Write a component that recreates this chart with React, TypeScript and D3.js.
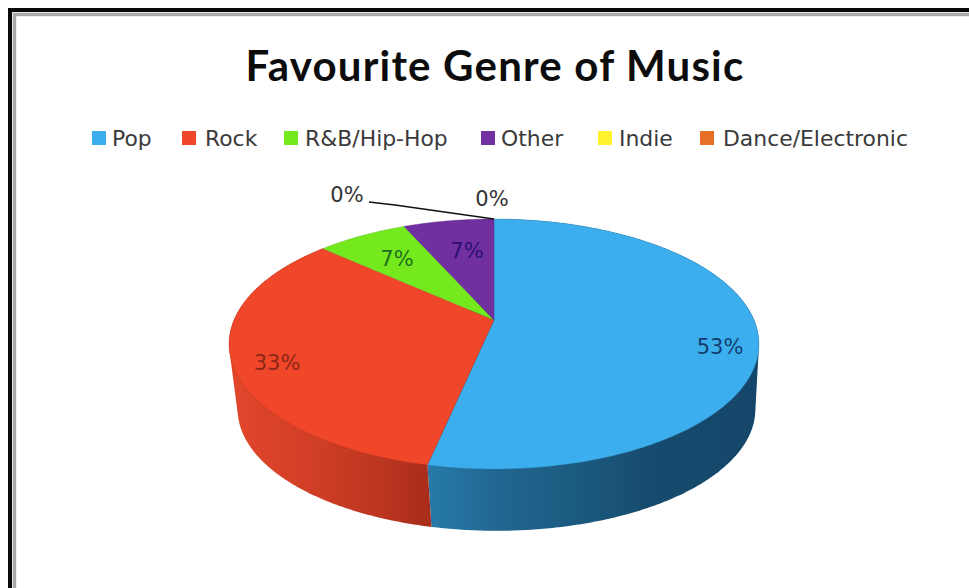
import React, { useMemo } from "react";
import * as d3 from "d3";

// Survey responses per genre
const genres = ["Pop", "Rock", "R&B/Hip-Hop", "Other", "Indie", "Dance/Electronic"];
const responses = [8, 5, 1, 1, 0, 0];
const sliceColors = ["#3CAEEE", "#F0472A", "#74EA1E", "#7030A0", "#FFF22E", "#E66E26"];
const labelColors = ["#123F6E", "#8E2618", "#1F6E1C", "#2C1070", "#333333", "#333333"];
const titleText = "Favourite Genre of Music";

const W = 969;
const H = 588;

// Legend layout: swatch left edge and label left edge for each entry
const legendSwatchX = [92, 182, 284, 481, 598, 700];
const legendTextX = [112, 205, 305, 501, 619, 723];

// Label anchor points in the drawing, by slice
const labelPos: [number, number][] = [
  [720, 347],
  [277, 363],
  [397, 259],
  [467, 251],
  [347, 195],
  [492, 199],
];

// Perspective tilt of the pie disc: the near edge is drawn larger than the far edge
const TILT = 0.192;
const topFace = { cx: 494, cy: 320, rx: 260, ry: 120.4 };
const bottomFace = { cx: 496.5, cy: 386, rx: 254, ry: 117 };

type Face = typeof topFace;

function project(face: Face, angle: number): [number, number] {
  const u = Math.sin(angle);
  const v = -Math.cos(angle);
  const w = 1 - TILT * v;
  return [face.cx + (face.rx * u) / w, face.cy + (face.ry * v) / w];
}

function arcAngles(a0: number, a1: number): number[] {
  const steps = Math.max(2, Math.ceil((a1 - a0) / 0.01));
  return d3.range(steps + 1).map((i) => a0 + ((a1 - a0) * i) / steps);
}

const line = d3.line<[number, number]>();

export default function App() {
  const arcs = useMemo(
    () => d3.pie<number>().sort(null).value((d) => d)(responses),
    []
  );

  const topPath = (a0: number, a1: number) =>
    line([
      [topFace.cx, topFace.cy] as [number, number],
      ...arcAngles(a0, a1).map((a) => project(topFace, a)),
    ])! + "Z";

  // Outer wall of a slice: the hull of its rim on both faces, so the silhouette
  // stays closed where the two rims cross at the sides of the disc
  const wallPath = (a0: number, a1: number) => {
    const angles = arcAngles(a0, a1);
    const hull = d3.polygonHull([
      ...angles.map((a) => project(topFace, a)),
      ...angles.map((a) => project(bottomFace, a)),
    ])!;
    return line(hull)! + "Z";
  };

  const zeroPoint = project(topFace, arcs[4].startAngle);

  return (
    <svg
      width={W}
      height={H}
      viewBox={`0 0 ${W} ${H}`}
      style={{ position: "absolute", left: 0, top: 0, background: "#fff" }}
    >
      <defs>
        <linearGradient id="popWall" gradientUnits="userSpaceOnUse" x1={429} x2={760} y1={0} y2={0}>
          <stop offset="0" stopColor="#277AA9" />
          <stop offset="0.2" stopColor="#216791" />
          <stop offset="0.45" stopColor="#1B5A80" />
          <stop offset="0.65" stopColor="#174C6E" />
          <stop offset="1" stopColor="#14466A" />
        </linearGradient>
        <linearGradient id="rockWall" gradientUnits="userSpaceOnUse" x1={230} x2={430} y1={0} y2={0}>
          <stop offset="0" stopColor="#E2472C" />
          <stop offset="0.45" stopColor="#CF3D25" />
          <stop offset="0.8" stopColor="#B8341F" />
          <stop offset="1" stopColor="#A92D1A" />
        </linearGradient>
      </defs>

      {/* Window frame running off the right and bottom edges */}
      <g fill="none">
        <path d={`M10 ${H}V10H${W}`} stroke="#0a0a0a" strokeWidth={4} />
        <path d={`M12.5 ${H}V12.5H${W}`} stroke="#e4e4e4" strokeWidth={1} />
        <path d={`M14.5 ${H}V14.5H${W}`} stroke="#a9a9a9" strokeWidth={3} />
        <path d={`M16.5 ${H}V16.5H${W}`} stroke="#ececec" strokeWidth={1} />
      </g>

      <text
        x={495}
        y={80.5}
        textAnchor="middle"
        fontFamily="Lato, sans-serif"
        fontWeight={700}
        fontSize={42}
        letterSpacing={1.2}
        fill="#0c0c0c"
      >
        {titleText}
      </text>

      <g fontFamily="'DejaVu Sans', sans-serif" fontSize={21.9} fill="#3a3a3a">
        {genres.map((g, i) => (
          <g key={g}>
            <rect x={legendSwatchX[i]} y={131} width={14} height={14} fill={sliceColors[i]} />
            <text x={legendTextX[i]} y={146}>
              {g}
            </text>
          </g>
        ))}
      </g>

      {/* Side walls of the two front slices; the top face hides the far side */}
      <path d={wallPath(arcs[0].startAngle, arcs[0].endAngle)} fill="url(#popWall)" />
      <path d={wallPath(arcs[1].startAngle, arcs[1].endAngle)} fill="url(#rockWall)" />

      {arcs.map((a, i) =>
        a.endAngle > a.startAngle ? (
          <path
            key={genres[i]}
            d={topPath(a.startAngle, a.endAngle)}
            fill={sliceColors[i]}
            stroke={d3.color(sliceColors[i])!.darker(0.8).formatHex()}
            strokeOpacity={0.35}
            strokeWidth={1}
          />
        ) : null
      )}

      {/* Leader line from the outside label to its zero-width slice */}
      <path
        d={d3.line()([
          [369, 202],
          [395, 205],
          zeroPoint,
        ])!}
        fill="none"
        stroke="#111"
        strokeWidth={1.4}
      />

      <g fontFamily="'DejaVu Sans', sans-serif" fontSize={21} textAnchor="middle" dominantBaseline="central">
        {arcs.map((a, i) => (
          <text key={genres[i]} x={labelPos[i][0]} y={labelPos[i][1]} fill={labelColors[i]}>
            {d3.format(".0%")(a.value / d3.sum(responses))}
          </text>
        ))}
      </g>
    </svg>
  );
}
